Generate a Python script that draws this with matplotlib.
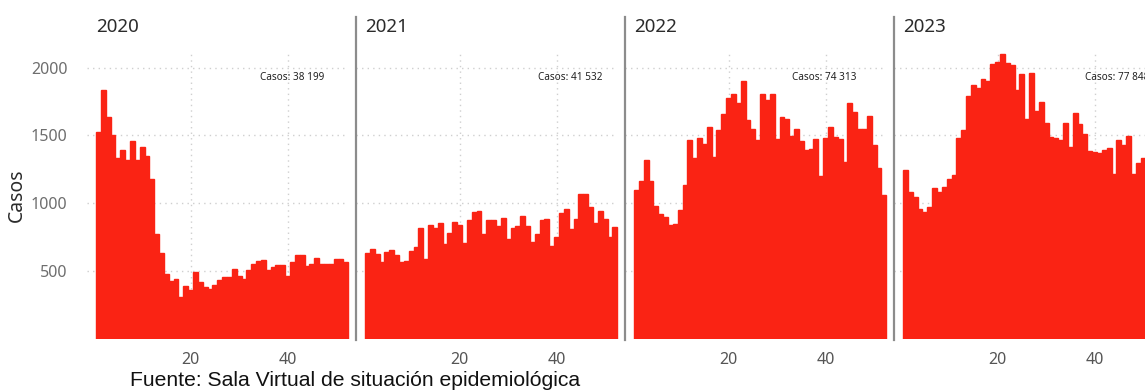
import matplotlib
matplotlib.use('Agg')
import matplotlib.pyplot as plt
from matplotlib.lines import Line2D
import matplotlib.transforms as mtransforms

# ---------------- data ----------------
years = ['2020', '2021', '2022', '2023']

cases_2020 = [1525, 1836, 1635, 1505, 1333, 1390, 1321, 1458, 1321, 1414, 1350, 1181,
              777, 630, 478, 429, 439, 306, 390, 360, 495, 422, 385, 370, 395, 434,
              458, 458, 515, 466, 439, 512, 549, 576, 581, 507, 527, 544, 544, 466,
              564, 620, 620, 537, 556, 600, 556, 556, 556, 593, 586, 566]

cases_2021 = [630, 664, 625, 566, 640, 659, 618, 566, 574, 647, 679, 819,
              591, 841, 821, 858, 703, 782, 863, 838, 708, 875, 936, 941, 777, 875,
              875, 831, 895, 735, 819, 833, 904, 831, 713, 772, 875, 885, 684, 752,
              931, 961, 809, 882, 1066, 1071, 973, 855, 941, 887, 752, 826]

cases_2022 = [1096, 1162, 1316, 1162, 983, 924, 900, 838, 846, 951, 1132, 1463,
              1333, 1483, 1439, 1561, 1341, 1539, 1659, 1777, 1806, 1740, 1902, 1615, 1549, 1463,
              1806, 1762, 1806, 1476, 1635, 1618, 1495, 1549, 1458, 1395, 1400, 1476, 1199, 1483,
              1561, 1488, 1476, 1304, 1740, 1672, 1544, 1549, 1645, 1426, 1257, 1059]

cases_2023 = [1248, 1083, 1047, 961, 936, 973, 1113, 1083, 1120, 1181, 1206, 1483,
              1537, 1787, 1873, 1851, 1917, 1904, 2027, 2044, 2100, 2032, 2015, 1836, 1949, 1623,
              1958, 1682, 1749, 1594, 1490, 1480, 1466, 1594, 1416, 1663, 1584, 1507, 1387, 1377,
              1367, 1392, 1404, 1219, 1466, 1431, 1495, 1219, 1293, 1330, 1180, 1176]

series = [cases_2020, cases_2021, cases_2022, cases_2023]
totals = ['Casos: 38 199', 'Casos: 41 532', 'Casos: 74 313', 'Casos: 77 848']

y_ticks = [500, 1000, 1500, 2000]
x_ticks = [20, 40]
y_label = 'Casos'
footer = 'Fuente: Sala Virtual de situación epidemiológica'

# ---------------- layout / style ----------------
W, H = 1145, 392
BAR = '#FA2314'
SEP = '#8c8c8c'
GRID = '#cfcfcf'
TITLE_C = '#2b2b2b'
TICK_C = '#6e6e6e'

panel_x0, panel_w = 87, 269          # pixels
ax_top, ax_bot = 53, 339             # pixels from top
ymax = 2107
xlim = (-1.36, 54.1)
label_x = [40.9, 42.8, 39.7, 44.6]   # data-x of the total labels
label_y = 1923

plt.rcParams['font.family'] = ['Noto Sans', 'DejaVu Sans']

fig = plt.figure(figsize=(W / 100, H / 100), dpi=100)

ax_h = ax_bot - ax_top
for i, (yr, vals, tot) in enumerate(zip(years, series, totals)):
    left = panel_x0 + i * panel_w
    ax = fig.add_axes([left / W, 1 - ax_bot / H, panel_w / W, ax_h / H])
    weeks = list(range(1, len(vals) + 1))
    ax.bar(weeks, vals, width=1.0, color=BAR, edgecolor=BAR, linewidth=1.0, zorder=2)
    ax.set_xlim(*xlim)
    ax.set_ylim(0, ymax)
    for s in ax.spines.values():
        s.set_visible(False)

    # dotted gridlines
    ytr = ax.get_yaxis_transform()
    ax.hlines(y_ticks, 0.0, 0.955, transform=ytr, colors=GRID,
              linestyles=(0, (1, 3)), linewidth=1.0, zorder=1)
    ax.vlines(x_ticks, 0, 1, transform=ax.get_xaxis_transform(), colors=GRID,
              linestyles=(0, (1, 3)), linewidth=1.0, zorder=1)

    ax.set_xticks(x_ticks)
    ax.set_xticklabels([str(t) for t in x_ticks])
    ax.tick_params(axis='x', length=0, pad=9, labelsize=11.5, labelcolor='#555555')
    ax.set_yticks(y_ticks)
    if i == 0:
        ax.set_yticklabels([str(t) for t in y_ticks])
        ax.tick_params(axis='y', length=0, pad=14, labelsize=11.5, labelcolor=TICK_C)
    else:
        ax.tick_params(axis='y', length=0, labelleft=False)
        ax.add_line(Line2D([0, 0], [(ax_bot - 340) / ax_h, (ax_bot - 17) / ax_h],
                           transform=ax.transAxes, color=SEP, lw=1.6, clip_on=False))

    trans = mtransforms.blended_transform_factory(ax.transData, ax.transAxes)
    ax.text(0.45, (ax_bot - 31.7) / ax_h, yr, transform=trans, ha='left', va='baseline',
            fontsize=13.5, color=TITLE_C)
    ax.text(label_x[i], label_y, tot, ha='center', va='center', fontsize=7.2,
            color='#222222', zorder=3)

fig.text(17 / W, 1 - 195 / H, y_label, rotation=90, ha='center', va='center',
         fontsize=14, color=TITLE_C)
fig.text(130 / W, 1 - 386.5 / H, footer, ha='left', va='baseline', fontsize=15.2,
         color='#111111', family=['Liberation Sans', 'DejaVu Sans'])

fig.savefig('out.png', dpi=100)
